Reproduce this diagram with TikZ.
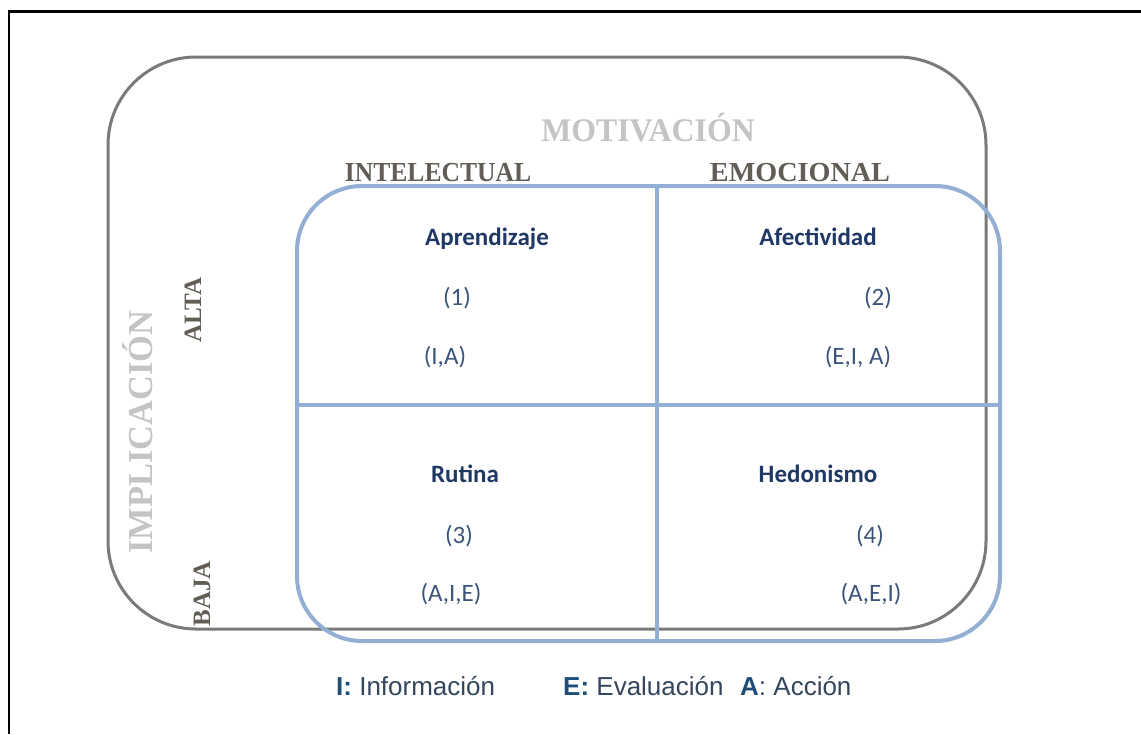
\documentclass[tikz,border=0pt]{standalone}
\usepackage{fontspec}
\setmainfont{Liberation Serif}
\newfontfamily\calib{Carlito}
\newfontfamily\arialf{Liberation Sans}
\definecolor{frameblue}{HTML}{93AFD4}
\definecolor{outergray}{HTML}{7A7A7A}
\definecolor{lightttl}{HTML}{C4C4C4}
\definecolor{darkttl}{HTML}{625E56}
\definecolor{navy}{HTML}{1F3864}
\definecolor{numblue}{HTML}{3B557A}
\definecolor{legb}{HTML}{1F4E79}
\definecolor{legt}{HTML}{34465E}
\tikzset{
  head/.style={font=\calib\bfseries\fontsize{25}{30}\selectfont, text=navy, anchor=base, inner sep=0pt},
  num/.style={font=\calib\fontsize{25}{30}\selectfont, text=numblue, anchor=base, inner sep=0pt},
  bigttl/.style={font=\bfseries\fontsize{33}{38}\selectfont, text=lightttl, anchor=base, inner sep=0pt},
  colttl/.style={font=\bfseries\fontsize{27.5}{32}\selectfont, text=darkttl, anchor=base, inner sep=0pt},
  rowttl/.style={font=\bfseries\fontsize{25}{30}\selectfont, text=darkttl, anchor=base, inner sep=0pt, rotate=90},
  legend/.style={font=\arialf\fontsize{26}{30}\selectfont, text=legt, anchor=base west, inner sep=0pt}
}
\begin{document}
\begin{tikzpicture}[x=1pt,y=-1pt]
\useasboundingbox (0,0) rectangle (1141,734);
\fill[white] (0,0) rectangle (1141,734);
% black frame (top and left)
\draw[line width=2.5pt,black] (1141,11.5) -- (9,11.5) -- (9,734);
% outer gray rounded box
\draw[outergray,line width=3pt,rounded corners=88pt] (108,57) rectangle (986,629);
% blue matrix
\draw[frameblue,line width=4pt,rounded corners=65pt] (297,186) rectangle (1000,641);
\coordinate (vt) at (657,186);
\coordinate (vb) at (657,641);
\coordinate (hl) at (297,405);
\coordinate (hr) at (1000,405);
\draw[frameblue,line width=4pt] (vt) -- (vb);
\draw[frameblue,line width=4pt] (hl) -- (hr);
% titles
\node[bigttl] (mot) at (648,141) {\scalebox{0.965}[1]{MOTIVACIÓN}};
\node[colttl] (int) at (438,181) {\scalebox{0.93}[1]{INTELECTUAL}};
\node[colttl] (emo) at (800,181) {\scalebox{1.025}[1]{EMOCIONAL}};
\node[font=\bfseries\fontsize{35}{40}\selectfont, text=lightttl, anchor=base, inner sep=0pt, rotate=90] (imp) at (152,432) {\scalebox{0.985}[1]{IMPLICACIÓN}};
\node[rowttl] (alta) at (201,310) {ALTA};
\node[rowttl] (baja) at (210,594) {BAJA};
% quadrant 1
\node[head] (q1h) at (487,245) {Aprendizaje};
\node[num] (q1n) at (457,305) {(1)};
\node[num] (q1c) at (445,364) {(I,A)};
% quadrant 2
\node[head] (q2h) at (818,245) {Afectividad};
\node[num] (q2n) at (878,305) {(2)};
\node[num] (q2c) at (858,364) {(E,I, A)};
% quadrant 3
\node[head] (q3h) at (465,482) {Rutina};
\node[num] (q3n) at (459,543) {(3)};
\node[num] (q3c) at (451,601) {(A,I,E)};
% quadrant 4
\node[head] (q4h) at (818,482) {Hedonismo};
\node[num] (q4n) at (870,543) {(4)};
\node[num] (q4c) at (871,601) {(A,E,I)};
% legend
\node[legend] (l1) at (336,695) {{\bfseries\color{legb}I:} Información};
\node[legend] (l2) at (563,695) {{\bfseries\color{legb}E:} Evaluación};
\node[legend] (l3) at (740,695) {{\bfseries\color{legb}A}: Acción};
\end{tikzpicture}
\end{document}
